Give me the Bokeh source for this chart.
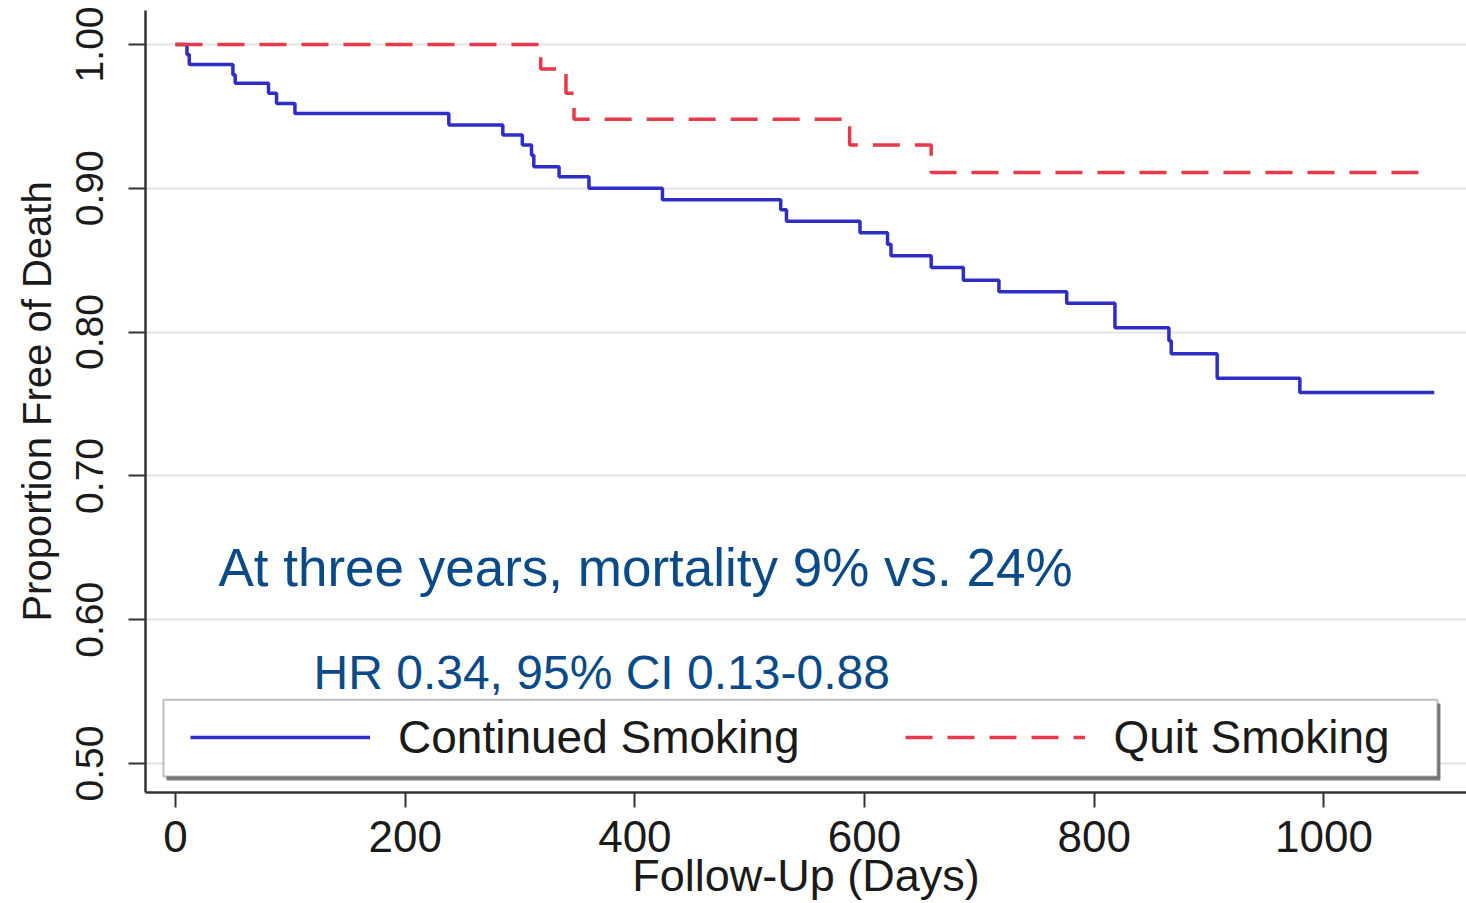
from bokeh.plotting import figure
from bokeh.models import (Label, Legend, LegendItem, BoxAnnotation, FixedTicker,
                          PrintfTickFormatter, Range1d)
from bokeh.embed import file_html
from bokeh.resources import INLINE

# ---- data ----
cont_days = [0, 10, 12, 50, 52, 81, 88, 104, 238, 285, 302, 310, 312, 334, 360,
             424, 527, 532, 596, 620, 623, 658, 686, 717, 776, 818, 865, 867,
             907, 979, 1096]
cont_surv = [1.000, 0.993, 0.986, 0.979, 0.973, 0.966, 0.959, 0.952, 0.944, 0.937,
             0.930, 0.923, 0.915, 0.908, 0.900, 0.892, 0.885, 0.877, 0.869, 0.861,
             0.853, 0.845, 0.836, 0.828, 0.820, 0.803, 0.794, 0.785, 0.768, 0.758,
             0.758]
quit_days = [0, 318, 340, 347, 587, 658, 1084]
quit_surv = [1.000, 0.983, 0.966, 0.948, 0.930, 0.911, 0.911]

series_names = ["Continued Smoking", "Quit Smoking"]
x_ticks = [0, 200, 400, 600, 800, 1000]
y_ticks = [0.50, 0.60, 0.70, 0.80, 0.90, 1.00]
x_title = "Follow-Up (Days)"
y_title = "Proportion Free of Death"
note_main = "At three years, mortality 9% vs. 24%"
note_hr = "HR 0.34, 95% CI 0.13-0.88"

FONT = "Liberation Sans"
BLUE = "#2e2ec4"
RED = "#e63a4a"
NOTE = "#0b4a88"
INK = "#1a1a1a"

p = figure(width=1466, height=903, output_backend="svg", toolbar_location=None,
           x_range=Range1d(-26.1, 1124.1), y_range=Range1d(0.4799, 1.0236),
           min_border_left=145, min_border_right=0, min_border_top=10,
           min_border_bottom=110)
p.outline_line_color = None
p.background_fill_color = "white"

# grid
p.xgrid.grid_line_color = None
p.ygrid.grid_line_color = "#e4e4e4"
p.ygrid.grid_line_width = 2

# axes
p.xaxis.ticker = FixedTicker(ticks=x_ticks)
p.yaxis.ticker = FixedTicker(ticks=y_ticks)
p.yaxis.formatter = PrintfTickFormatter(format="%.2f")
for ax in (p.xaxis, p.yaxis):
    ax.axis_line_color = "#333333"
    ax.axis_line_width = 2.5
    ax.major_tick_line_color = "#333333"
    ax.major_tick_line_width = 2
    ax.major_tick_in = 0
    ax.minor_tick_line_color = None
    ax.major_label_text_font = FONT
    ax.major_label_text_color = INK
    ax.axis_label_text_font = FONT
    ax.axis_label_text_font_style = "normal"
    ax.axis_label_text_color = INK

p.xaxis.major_tick_out = 15
p.xaxis.major_label_standoff = 13
p.xaxis.major_label_text_font_size = "44px"
p.xaxis.axis_label = x_title
p.xaxis.axis_label_text_font_size = "45px"
p.xaxis.axis_label_standoff = -5

p.yaxis.major_tick_out = 17
p.yaxis.major_label_standoff = 25
p.yaxis.major_label_text_font_size = "39px"
p.yaxis.major_label_orientation = "vertical"
p.yaxis.axis_label = y_title
p.yaxis.axis_label_text_font_size = "40px"
p.yaxis.axis_label_standoff = 15

# legend box (with shadow)
shadow = BoxAnnotation(left=-7.8, right=1101.4, top=0.5417, bottom=0.4882,
                       fill_color="#7a7a7a", fill_alpha=1.0, line_color=None)
box = BoxAnnotation(left=-10.45, right=1098.8, top=0.5444, bottom=0.4910,
                    fill_color="white", fill_alpha=1.0, line_color="#2a2a2a",
                    line_width=2)
p.add_layout(shadow)
p.add_layout(box)

# curves
r_cont = p.step(cont_days, cont_surv, mode="after", line_color=BLUE, line_width=3.5)
r_quit = p.step(quit_days, quit_surv, mode="after", line_color=RED, line_width=3.5,
                line_dash="27 15")

legend = Legend(items=[LegendItem(label=series_names[0], renderers=[r_cont]),
                       LegendItem(label=series_names[1], renderers=[r_quit])],
                orientation="horizontal", location=(45, 28),
                padding=0, margin=0, spacing=106, glyph_width=180, glyph_height=20,
                label_standoff=28, border_line_color=None, background_fill_alpha=0,
                label_text_font=FONT, label_text_font_size="46px",
                label_text_color=INK)
p.add_layout(legend)

# annotations
p.add_layout(Label(x=37.4, y=0.6361, text=note_main, text_font=FONT,
                   text_font_size="53px", text_color=NOTE, text_baseline="alphabetic"))
p.add_layout(Label(x=120.2, y=0.5632, text=note_hr, text_font=FONT,
                   text_font_size="48px", text_color=NOTE, text_baseline="alphabetic"))

open("out.html", "w").write(file_html(p, INLINE))
